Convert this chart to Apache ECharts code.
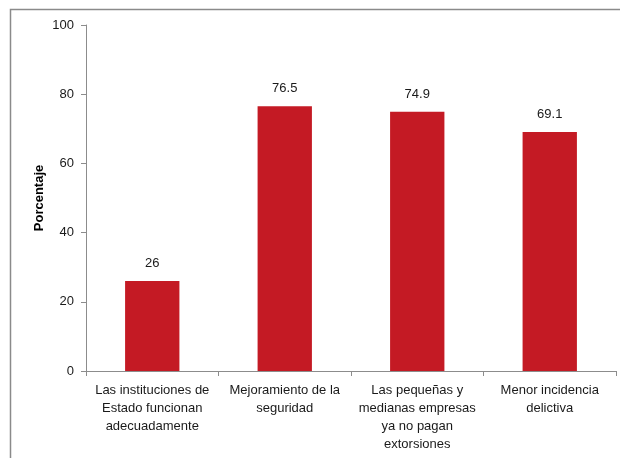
<!DOCTYPE html>
<html>
<head>
<meta charset="utf-8">
<script src="https://cdn.jsdelivr.net/npm/echarts@6/dist/echarts.min.js"></script>
<style>
html,body{margin:0;padding:0;background:#fff;}
#chart{width:620px;height:458px;}
</style>
</head>
<body>
<div id="chart"></div>
<script>
var categories = [
  "Las instituciones de\nEstado funcionan\nadecuadamente",
  "Mejoramiento de la\nseguridad",
  "Las pequeñas y\nmedianas empresas\nya no pagan\nextorsiones",
  "Menor incidencia\ndelictiva"
];
var values = [26, 76.5, 74.9, 69.1];
var yTicks = [0, 20, 40, 60, 80, 100];
var yAxisName = "Porcentaje";

var chart = echarts.init(document.getElementById('chart'), null, {renderer: 'canvas'});
var font = "'Liberation Sans', Arial, sans-serif";
chart.setOption({
  animation: false,
  backgroundColor: '#ffffff',
  graphic: [{
    type: 'rect',
    shape: {x: 10.5, y: 9.5, width: 800, height: 800},
    style: {fill: 'none', stroke: '#8a8a8a', lineWidth: 1.5},
    silent: true
  }],
  grid: {left: 86, right: 4, top: 25, bottom: 87, containLabel: false},
  xAxis: {
    type: 'category',
    data: categories,
    axisLine: {show: true, lineStyle: {color: '#8c8c8c', width: 1}},
    axisTick: {show: true, alignWithLabel: false, length: 5, lineStyle: {color: '#8c8c8c'}},
    axisLabel: {
      interval: 0, margin: 10, color: '#1a1a1a',
      fontFamily: font, fontSize: 13, lineHeight: 18
    }
  },
  yAxis: {
    type: 'value',
    min: yTicks[0], max: yTicks[yTicks.length - 1], interval: 20,
    name: yAxisName,
    nameLocation: 'middle',
    nameGap: 40,
    nameMoveOverlap: false,
    nameTextStyle: {fontFamily: font, fontSize: 13, fontWeight: 'bold', color: '#000'},
    axisLine: {show: true, lineStyle: {color: '#8c8c8c', width: 1}},
    axisTick: {show: true, length: 5, lineStyle: {color: '#8c8c8c'}},
    axisLabel: {margin: 12, color: '#1a1a1a', fontFamily: font, fontSize: 13},
    splitLine: {show: false}
  },
  series: [{
    type: 'bar',
    data: values,
    barWidth: '41%',
    itemStyle: {color: '#C41A24'},
    label: {
      show: true, position: 'top', distance: 11,
      color: '#1a1a1a', fontFamily: font, fontSize: 13
    }
  }]
});
</script>
</body>
</html>
